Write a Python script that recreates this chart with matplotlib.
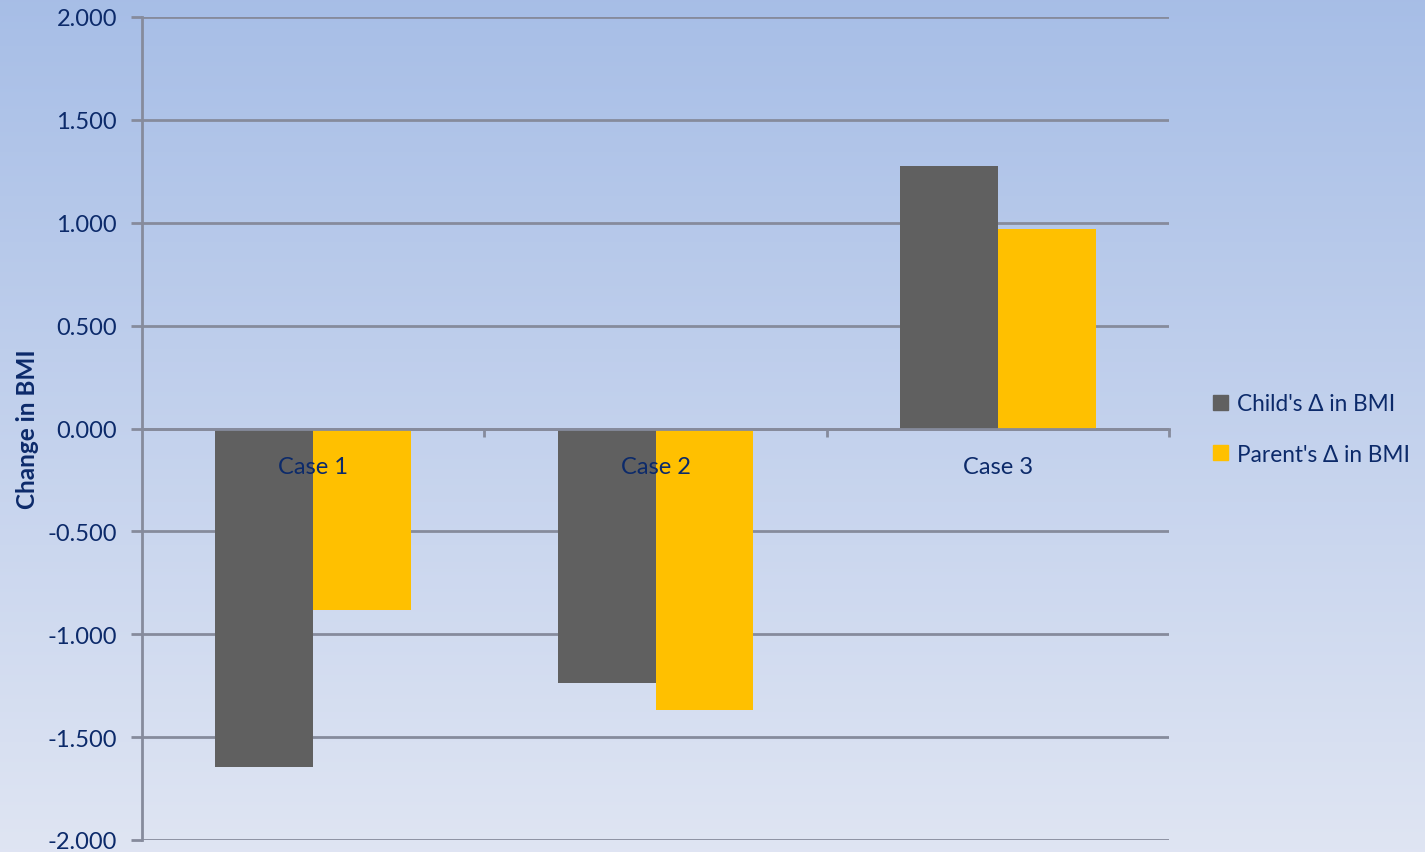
import numpy as np
import matplotlib.pyplot as plt
from matplotlib.patches import Patch

cases = ["Case 1", "Case 2", "Case 3"]
child_delta = [-1.643, -1.239, 1.278]
parent_delta = [-0.880, -1.366, 0.972]
series_names = ["Child's \u0394 in BMI", "Parent's \u0394 in BMI"]
yticks = [-2.0, -1.5, -1.0, -0.5, 0.0, 0.5, 1.0, 1.5, 2.0]

navy = "#0c2a6a"
grid_grey = "#868b9c"
fonts = ["Lato", "DejaVu Sans"]
plt.rcParams["font.family"] = fonts

fig = plt.figure(figsize=(14.25, 8.53), dpi=100)

# gradient background
bg = fig.add_axes([0, 0, 1, 1], zorder=-1)
top = np.array([0.655, 0.745, 0.905])
bot = np.array([0.875, 0.898, 0.953])
t = np.linspace(0, 1, 256)[:, None]
grad = top[None, None, :] * (1 - t[:, :, None]) + bot[None, None, :] * t[:, :, None]
grad = np.repeat(grad, 2, axis=1)
bg.imshow(grad, aspect="auto", extent=[0, 1, 0, 1])
bg.axis("off")

ax = fig.add_axes([142 / 1425, 1 - 841 / 853, (1169 - 142) / 1425, 823 / 853])
ax.set_facecolor("none")

x = np.arange(len(cases))
w = 0.286
ax.bar(x - w / 2, child_delta, w, color="#606060", zorder=2)
ax.bar(x + w / 2, parent_delta, w, color="#ffc000", zorder=2)

ax.set_xlim(-0.5, 2.5)
ax.set_ylim(-2.0, 2.0)
ax.set_yticks(yticks)
ax.set_yticklabels([f"{v:.3f}" for v in yticks], color=navy, fontsize=17)
ax.yaxis.grid(True, color=grid_grey, linewidth=2, zorder=0)
ax.set_axisbelow(True)
ax.tick_params(axis="y", length=8, width=2, color=grid_grey, pad=10)

for s in ["top", "right"]:
    ax.spines[s].set_visible(False)
ax.spines["left"].set_color(grid_grey)
ax.spines["left"].set_linewidth(2)
ax.spines["bottom"].set_position(("data", 0))
ax.spines["bottom"].set_color(grid_grey)
ax.spines["bottom"].set_linewidth(2)

ax.set_xticks([0.5, 1.5, 2.5])
ax.set_xticklabels([])
ax.tick_params(axis="x", length=6, width=2, color=grid_grey, direction="out")
for xi, name in zip(x, cases):
    ax.text(xi, -0.185, name, ha="center", va="center", fontsize=17, color=navy, zorder=5)

ax.set_ylabel("Change in BMI", fontsize=17.5, fontweight="bold", color=navy, labelpad=6)

handles = [Patch(color="#606060"), Patch(color="#ffc000")]
fig.legend(handles, series_names, loc="center left", bbox_to_anchor=(1193 / 1425, 1 - 430 / 853),
           frameon=False, fontsize=16.3, labelcolor=navy, handlelength=0.65, handleheight=0.65,
           handletextpad=0.4, labelspacing=1.3)

fig.savefig("out.png", dpi=100)
